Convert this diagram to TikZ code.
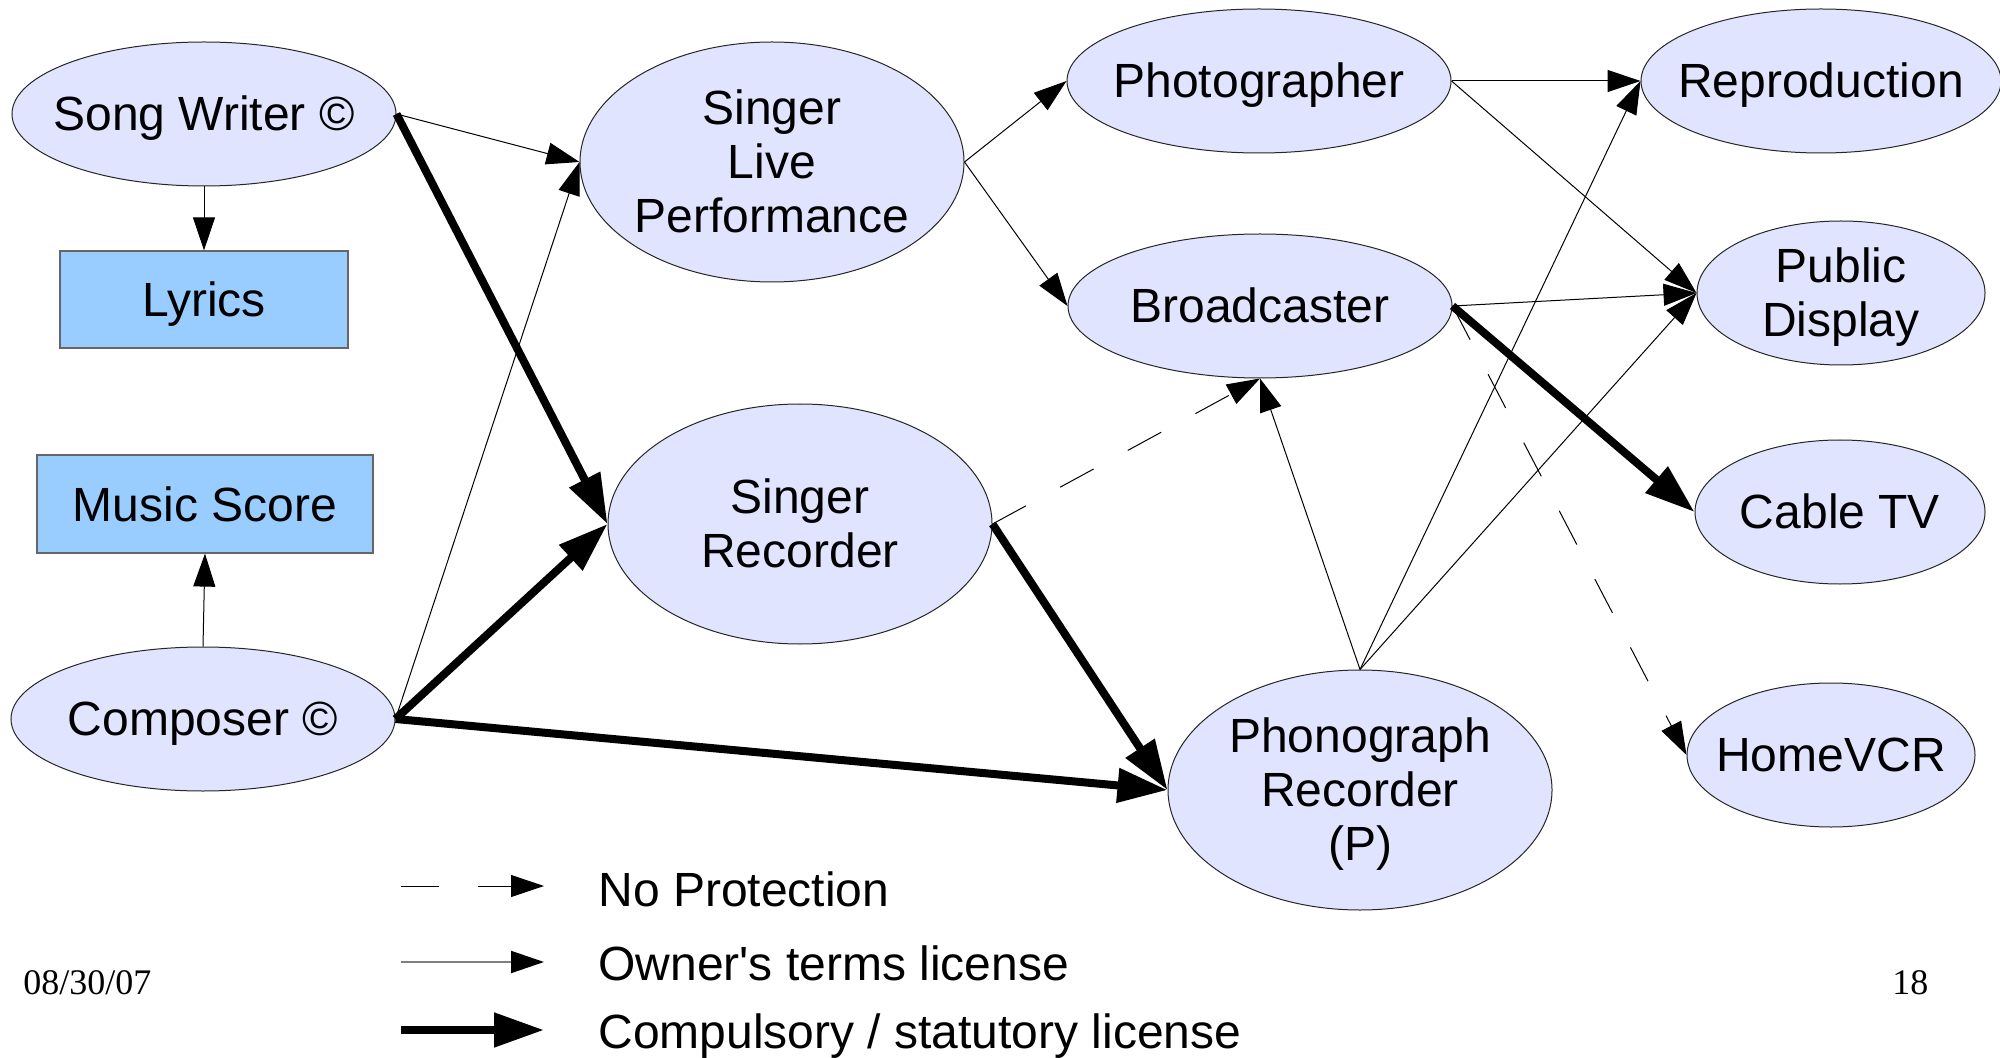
\documentclass[tikz,border=0pt]{standalone}
\usepackage{fontspec}
\setmainfont{Liberation Sans}[Ligatures=TeXOff]
\newfontfamily\datefont{Liberation Serif}
\usetikzlibrary{arrows.meta,shapes.geometric}
\definecolor{ellfill}{RGB}{224,228,255}
\definecolor{boxfill}{RGB}{153,204,255}
\newcommand{\zb}[1]{\makebox[0pt]{\raisebox{-9.2pt}[0pt][0pt]{\begin{tabular}{@{}c@{}}#1\end{tabular}}}}
\begin{document}
\begin{tikzpicture}[x=0.5pt,y=-0.5pt,
  ell/.style={ellipse, draw=black!85, line width=0.5pt, fill=ellfill, inner sep=0pt,
    font=\fontsize{24}{27}\selectfont},
  bx/.style={rectangle, draw=black!60, line width=0.6pt, fill=boxfill, inner sep=0pt,
    text depth=0pt, font=\fontsize{24}{27}\selectfont},
  owner/.style={-{Triangle[length=16.5pt,width=11pt]}, line width=0.5pt},
  compl/.style={-{Triangle[length=25pt,width=16.5pt]}, line width=4pt},
  noprot/.style={owner, dash pattern=on 19pt off 19.5pt},
  legtext/.style={anchor=base west, inner sep=0pt, font=\fontsize{24}{27}\selectfont},
  datetext/.style={anchor=base west, inner sep=0pt, font=\datefont\fontsize{18}{20}\selectfont},
]
\useasboundingbox (0,0) rectangle (2000,1058);

% nodes
\node[ell, minimum width=192pt, minimum height=72pt] (sw) at (204,114) {\zb{Song Writer ©}};
\node[bx, minimum width=144pt, minimum height=48.5pt] (lyr) at (204,299.5) {Lyrics};
\node[bx, minimum width=168pt, minimum height=49pt] (ms) at (205,504) {Music Score};
\node[ell, minimum width=192pt, minimum height=72pt] (comp) at (203,719) {\zb{Composer ©}};
\node[ell, minimum width=192pt, minimum height=120pt] (slp) at (772,162) {\zb{Singer\\Live\\Performance}};
\node[ell, minimum width=192pt, minimum height=120pt] (sr) at (800,524) {\zb{Singer\\Recorder}};
\node[ell, minimum width=192pt, minimum height=72pt] (ph) at (1259,81) {\zb{Photographer}};
\node[ell, minimum width=192pt, minimum height=72pt] (bc) at (1260,306) {\zb{Broadcaster}};
\node[ell, minimum width=180pt, minimum height=72pt] (rep) at (1821,81) {\zb{Reproduction}};
\node[ell, minimum width=144pt, minimum height=72pt] (pd) at (1841,293) {\zb{Public\\Display}};
\node[ell, minimum width=145pt, minimum height=72pt] (ctv) at (1840,512) {\zb{Cable TV}};
\node[ell, minimum width=144pt, minimum height=72pt] (hvcr) at (1831,755) {\zb{HomeVCR}};
\node[ell, minimum width=192pt, minimum height=120pt] (phono) at (1360,790) {\zb{Phonograph\\Recorder\\(P)}};

% connectors
\draw[owner] (sw.east) -- (slp.west);
\draw[compl] (sw.east) -- (sr.west);
\draw[owner] (sw.south) -- (lyr.north);
\draw[owner] (comp.north) -- (ms.south);
\draw[owner] (comp.east) -- (slp.west);
\draw[compl] (comp.east) -- (sr.west);
\draw[compl] (comp.east) -- (phono.west);
\draw[owner] (slp.east) -- (ph.west);
\draw[owner] (slp.east) -- (bc.west);
\draw[noprot] (sr.east) -- (bc.south);
\draw[compl] (sr.east) -- (phono.west);
\draw[owner] (ph.east) -- (rep.west);
\draw[owner] (ph.east) -- (pd.west);
\draw[owner] (bc.east) -- (pd.west);
\draw[compl] (bc.east) -- (ctv.west);
\draw[noprot] (bc.east) -- (hvcr.west);
\draw[owner] (phono.north) -- (bc.south);
\draw[owner] (phono.north) -- (rep.west);
\draw[owner] (phono.north) -- (pd.west);

% legend
\coordinate (l1a) at (401,886); \coordinate (l1b) at (544,886);
\coordinate (l2a) at (401,962); \coordinate (l2b) at (544,962);
\coordinate (l3a) at (401,1030); \coordinate (l3b) at (544,1030);
\draw[noprot] (l1a) -- (l1b);
\draw[-{Triangle[length=16.5pt,width=11pt,color=black]}, draw=gray, line width=1pt] (l2a) -- (l2b);
\draw[compl] (l3a) -- (l3b);
\node[legtext] (t1) at (598,906) {No Protection};
\node[legtext] (t2) at (598,980) {Owner's terms license};
\node[legtext] (t3) at (598,1048) {Compulsory / statutory license};

% footer
\node[datetext] (date) at (23,994) {08/30/07};
\node[datetext] (page) at (1892,994) {18};
\end{tikzpicture}
\end{document}
